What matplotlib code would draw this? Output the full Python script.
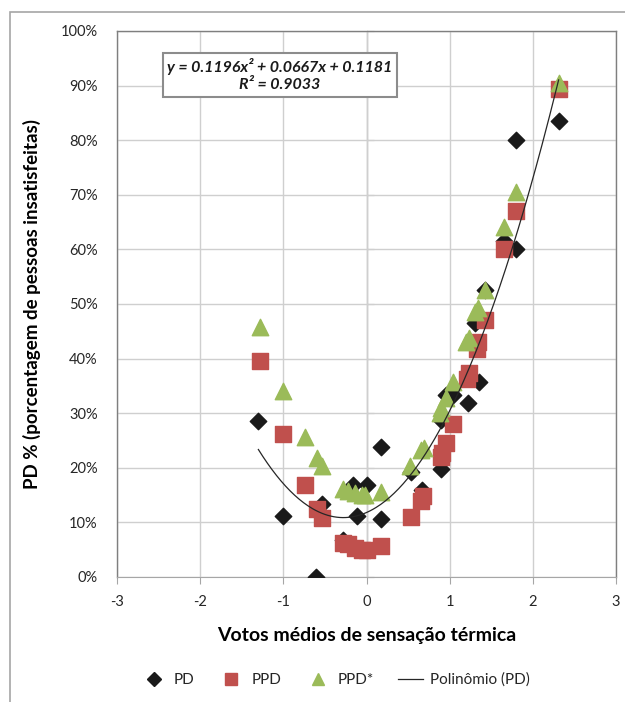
import matplotlib
matplotlib.use("Agg")
import matplotlib.pyplot as plt
import numpy as np
from matplotlib.ticker import PercentFormatter, MultipleLocator, NullFormatter
from matplotlib.patches import Rectangle
from matplotlib.lines import Line2D

plt.rcParams['font.family'] = ['Lato', 'DejaVu Sans']
plt.rcParams['axes.unicode_minus'] = False

# Thermal sensation votes and dissatisfaction fractions
pd_x = [-1.30, -1.00, -0.61, -0.53, -0.28, -0.16, 0.00, -0.12, 0.18, 0.18,
        0.53, 0.67, 0.90, 0.89, 0.96, 1.04, 1.22, 1.35, 1.23, 1.31, 1.42,
        1.65, 1.80, 1.80, 2.31]
pd_y = [0.286, 0.112, 0.000, 0.134, 0.068, 0.169, 0.169, 0.111, 0.238, 0.107,
        0.192, 0.160, 0.198, 0.288, 0.334, 0.334, 0.319, 0.357, 0.365, 0.465, 0.525,
        0.615, 0.601, 0.801, 0.835]

ppd_x = [-1.28, -1.00, -0.745, -0.60, -0.53, -0.28, -0.22, -0.14, -0.06, 0.00,
         0.18, 0.53, 0.65, 0.68, 0.89, 0.91, 0.96, 1.04, 1.21, 1.23, 1.33, 1.34,
         1.42, 1.65, 1.80, 2.32]
ppd_y = [0.395, 0.261, 0.168, 0.125, 0.108, 0.063, 0.060, 0.053, 0.050, 0.049,
         0.056, 0.110, 0.139, 0.148, 0.219, 0.227, 0.246, 0.280, 0.362, 0.373, 0.418,
         0.430, 0.470, 0.601, 0.670, 0.894]

ppds_x = [-1.28, -1.00, -0.745, -0.60, -0.53, -0.28, -0.22, -0.14, -0.06, -0.02,
          0.18, 0.52, 0.66, 0.69, 0.88, 0.90, 0.96, 1.04, 1.20, 1.23, 1.31, 1.34,
          1.42, 1.65, 1.80, 2.32]
ppds_y = [0.458, 0.340, 0.257, 0.218, 0.204, 0.161, 0.157, 0.154, 0.150, 0.150,
          0.156, 0.203, 0.232, 0.236, 0.300, 0.310, 0.328, 0.358, 0.430, 0.437, 0.486,
          0.492, 0.525, 0.641, 0.705, 0.905]

# Quadratic trend of PD as reported in the equation box
coef_a, coef_b, coef_c = 0.1196, 0.0667, 0.1181
r_squared = 0.9033

x_ticks = [-3, -2, -1, 0, 1, 2, 3]

fig = plt.figure(figsize=(6.25, 7.02), dpi=100)
W, H = 625, 702
ax = fig.add_axes([117 / W, 1 - 577 / H, (616 - 117) / W, (577 - 31) / H])

# chart frame
fig.patches.append(Rectangle((10 / W, -0.1), 2, (702 - 12) / H + 0.1,
                             transform=fig.transFigure, fill=False,
                             edgecolor='#a6a6a6', linewidth=1.2))

ax.set_xlim(-3, 3)
ax.set_ylim(0, 1)
ax.set_xticks(x_ticks)
ax.yaxis.set_major_locator(MultipleLocator(0.1))
ax.yaxis.set_major_formatter(PercentFormatter(1.0, decimals=0))
ax.grid(True, color='#cfcfcf', linewidth=1.0)
ax.set_axisbelow(True)
for side in ['left', 'top', 'right']:
    ax.spines[side].set_color('#7f7f7f')
    ax.spines[side].set_linewidth(1.0)
ax.spines['bottom'].set_color('#a6a6a6')
ax.tick_params(axis='y', length=0, pad=14, labelsize=10.5, labelcolor='#262626')
ax.tick_params(axis='x', length=5, color='#a6a6a6', pad=8, labelsize=10.5,
               labelcolor='#262626')

# vertical value axis crossing at x = 0
yax = ax.secondary_yaxis(0.5)
yax.spines['left'].set_color('#6e6e6e')
yax.spines['left'].set_linewidth(1.1)
yax.yaxis.set_major_locator(MultipleLocator(0.1))
yax.yaxis.set_major_formatter(NullFormatter())
yax.tick_params(axis='y', length=5, color='#6e6e6e', labelleft=False,
                labelright=False)

ax.set_xlabel('Votos médios de sensação térmica', fontsize=14,
              fontweight='bold', labelpad=13)
ax.set_ylabel('PD % (porcentagem de pessoas insatisfeitas)', fontsize=13.5,
              fontweight='bold', labelpad=14)

ax.scatter(pd_x, pd_y, marker='D', s=70, color='#1a1a1a', zorder=3,
           label='PD')
ax.scatter(ppd_x, ppd_y, marker='s', s=125, color='#c0504d', zorder=4,
           label='PPD')
ax.scatter(ppds_x, ppds_y, marker='^', s=140, color='#9bbb59', zorder=5,
           label='PPD*')

xt = np.linspace(min(pd_x), max(pd_x), 200)
ax.plot(xt, coef_a * xt ** 2 + coef_b * xt + coef_c, color='#262626',
        linewidth=0.9, zorder=6, label='Polinômio (PD)')

eq = (f'y = {coef_a:.4f}x² + {coef_b:.4f}x + {coef_c:.4f}\n'
      f'R² = {r_squared:.4f}')
fig.text(280 / W, 1 - 75 / H, eq, ha='center', va='center', fontsize=11.5,
         fontweight='bold', style='italic', color='#1a1a1a', linespacing=1.35,
         bbox=dict(boxstyle='square,pad=0.3', facecolor='white',
                   edgecolor='#8c8c8c', linewidth=1.5), zorder=10)

handles = [
    Line2D([], [], marker='D', linestyle='none', color='#1a1a1a', markersize=7),
    Line2D([], [], marker='s', linestyle='none', color='#c0504d', markersize=9),
    Line2D([], [], marker='^', linestyle='none', color='#9bbb59', markersize=9),
    Line2D([], [], color='#262626', linewidth=0.9),
]
fig.legend(handles, ['PD', 'PPD', 'PPD*', 'Polinômio (PD)'], loc='center',
           bbox_to_anchor=(336 / W, 1 - 680 / H), ncol=4, frameon=False,
           fontsize=11, handlelength=1.6, columnspacing=1.6, handletextpad=0.5,
           labelcolor='#262626')

fig.savefig('out.png', dpi=100, facecolor='white')
